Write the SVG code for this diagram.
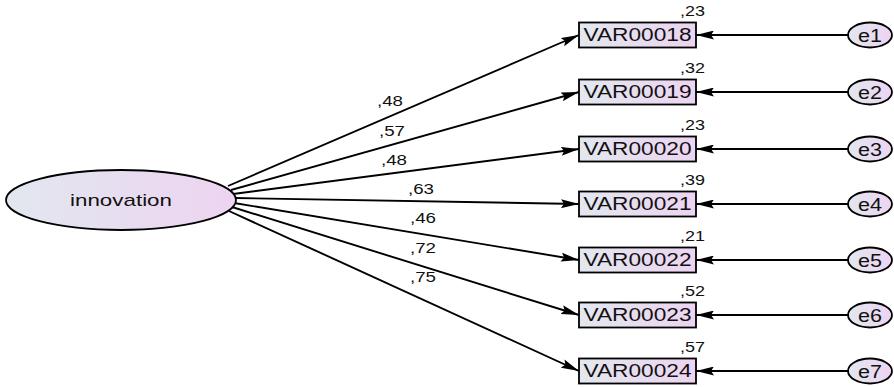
<svg xmlns="http://www.w3.org/2000/svg" width="894" height="387" viewBox="0 0 894 387">
<defs>
<linearGradient id="g" x1="0" y1="0" x2="1" y2="0">
<stop offset="0" stop-color="#e2e7ef"/>
<stop offset="1" stop-color="#edd4f1"/>
</linearGradient>
<marker id="ah" viewBox="0 0 18 9" refX="18" refY="4.5" markerWidth="18" markerHeight="9" markerUnits="userSpaceOnUse" orient="auto">
<path d="M0,0 L18,4.5 L0,9 L3,4.5 Z" fill="#000"/>
</marker>
<style>
.n{fill:url(#g);stroke:#000;stroke-width:1.8}
.t{font-family:"Liberation Sans",Arial,sans-serif;fill:#111}
.bx{font-size:18px;text-anchor:middle}
.e{font-size:18px;text-anchor:middle}
.lb{font-size:14px}
.c line{stroke:#000;stroke-width:1.9;marker-end:url(#ah)}
</style>
</defs>
<g class="c" id="connectors">
<line x1="228" y1="186" x2="579" y2="35"/>
<line x1="231" y1="190" x2="579" y2="92"/>
<line x1="233" y1="194" x2="579" y2="149"/>
<line x1="235" y1="198" x2="579" y2="204"/>
<line x1="234" y1="203" x2="579" y2="260"/>
<line x1="232" y1="207" x2="579" y2="315"/>
<line x1="229" y1="211" x2="579" y2="371"/>
<line x1="848" y1="35" x2="696" y2="35"/>
<line x1="848" y1="92" x2="696" y2="92"/>
<line x1="848" y1="149" x2="696" y2="149"/>
<line x1="848" y1="204" x2="696" y2="204"/>
<line x1="848" y1="260" x2="696" y2="260"/>
<line x1="848" y1="315" x2="696" y2="315"/>
<line x1="848" y1="371" x2="696" y2="371"/>
</g>
<g class="t lb" id="loadings">
<text x="377" y="106" textLength="26" lengthAdjust="spacingAndGlyphs">,48</text>
<text x="379" y="136" textLength="26" lengthAdjust="spacingAndGlyphs">,57</text>
<text x="381" y="165" textLength="26" lengthAdjust="spacingAndGlyphs">,48</text>
<text x="408" y="194" textLength="26" lengthAdjust="spacingAndGlyphs">,63</text>
<text x="410" y="223" textLength="26" lengthAdjust="spacingAndGlyphs">,46</text>
<text x="410" y="253" textLength="26" lengthAdjust="spacingAndGlyphs">,72</text>
<text x="410" y="282" textLength="26" lengthAdjust="spacingAndGlyphs">,75</text>
</g>
<g id="innovation">
<ellipse class="n" cx="121" cy="200" rx="115" ry="30"/>
<text class="t" x="70" y="206" font-size="17" textLength="102" lengthAdjust="spacingAndGlyphs">innovation</text>
</g>
<g id="VAR00018"><rect class="n" x="579" y="22.5" width="117" height="25"/><text class="t bx" x="637.5" y="41" textLength="108" lengthAdjust="spacingAndGlyphs">VAR00018</text><text class="t lb" x="680" y="16" textLength="25" lengthAdjust="spacingAndGlyphs">,23</text></g>
<g id="VAR00019"><rect class="n" x="579" y="79.5" width="117" height="25"/><text class="t bx" x="637.5" y="98" textLength="108" lengthAdjust="spacingAndGlyphs">VAR00019</text><text class="t lb" x="680" y="73" textLength="25" lengthAdjust="spacingAndGlyphs">,32</text></g>
<g id="VAR00020"><rect class="n" x="579" y="136.5" width="117" height="25"/><text class="t bx" x="637.5" y="155" textLength="108" lengthAdjust="spacingAndGlyphs">VAR00020</text><text class="t lb" x="680" y="130" textLength="25" lengthAdjust="spacingAndGlyphs">,23</text></g>
<g id="VAR00021"><rect class="n" x="579" y="191.5" width="117" height="25"/><text class="t bx" x="637.5" y="210" textLength="108" lengthAdjust="spacingAndGlyphs">VAR00021</text><text class="t lb" x="680" y="185" textLength="25" lengthAdjust="spacingAndGlyphs">,39</text></g>
<g id="VAR00022"><rect class="n" x="579" y="247.5" width="117" height="25"/><text class="t bx" x="637.5" y="266" textLength="108" lengthAdjust="spacingAndGlyphs">VAR00022</text><text class="t lb" x="680" y="241" textLength="25" lengthAdjust="spacingAndGlyphs">,21</text></g>
<g id="VAR00023"><rect class="n" x="579" y="302.5" width="117" height="25"/><text class="t bx" x="637.5" y="321" textLength="108" lengthAdjust="spacingAndGlyphs">VAR00023</text><text class="t lb" x="680" y="296" textLength="25" lengthAdjust="spacingAndGlyphs">,52</text></g>
<g id="VAR00024"><rect class="n" x="579" y="358.5" width="117" height="25"/><text class="t bx" x="637.5" y="377" textLength="108" lengthAdjust="spacingAndGlyphs">VAR00024</text><text class="t lb" x="680" y="352" textLength="25" lengthAdjust="spacingAndGlyphs">,57</text></g>
<g id="e1"><ellipse class="n" cx="870" cy="35" rx="22" ry="12.5"/><text class="t e" x="870" y="42" textLength="24" lengthAdjust="spacingAndGlyphs">e1</text></g>
<g id="e2"><ellipse class="n" cx="870" cy="92" rx="22" ry="12.5"/><text class="t e" x="870" y="99" textLength="24" lengthAdjust="spacingAndGlyphs">e2</text></g>
<g id="e3"><ellipse class="n" cx="870" cy="149" rx="22" ry="12.5"/><text class="t e" x="870" y="156" textLength="24" lengthAdjust="spacingAndGlyphs">e3</text></g>
<g id="e4"><ellipse class="n" cx="870" cy="204" rx="22" ry="12.5"/><text class="t e" x="870" y="211" textLength="24" lengthAdjust="spacingAndGlyphs">e4</text></g>
<g id="e5"><ellipse class="n" cx="870" cy="260" rx="22" ry="12.5"/><text class="t e" x="870" y="267" textLength="24" lengthAdjust="spacingAndGlyphs">e5</text></g>
<g id="e6"><ellipse class="n" cx="870" cy="315" rx="22" ry="12.5"/><text class="t e" x="870" y="322" textLength="24" lengthAdjust="spacingAndGlyphs">e6</text></g>
<g id="e7"><ellipse class="n" cx="870" cy="371" rx="22" ry="12.5"/><text class="t e" x="870" y="378" textLength="24" lengthAdjust="spacingAndGlyphs">e7</text></g>
</svg>
